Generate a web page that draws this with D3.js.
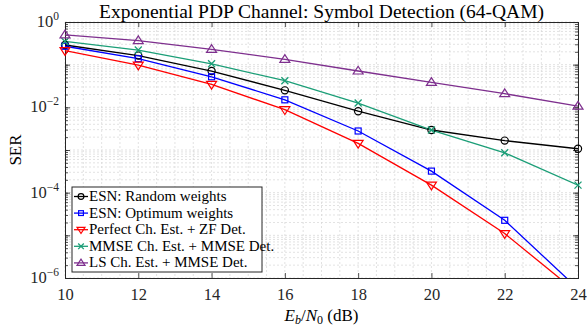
<!DOCTYPE html>
<html>
<head>
<meta charset="utf-8">
<script src="https://cdn.jsdelivr.net/npm/d3@7"></script>
<style>
  body { margin: 0; background: #fff; }
  svg { display: block; font-family: "Liberation Serif", "Times New Roman", serif; }
</style>
</head>
<body>
<svg id="chart" width="587" height="330"></svg>
<script>
// SNR points (dB)
const ebno = [10, 12, 14, 16, 18, 20, 22, 24];

// SER per method
const serEsnRandom  = [0.289, 0.163, 0.071, 0.025, 0.0081, 0.00294, 0.00166, 0.00107];
const serEsnOptimum = [0.27, 0.138, 0.052, 0.015, 0.00279, 3.2e-4, 2.25e-5, 5.6e-7];
const serPerfectZF  = [0.213, 0.098, 0.0346, 0.0088, 0.00143, 1.5e-4, 1.1e-5, 4.4e-7];
const serMmseMmse   = [0.35, 0.22, 0.105, 0.042, 0.0126, 0.00294, 8.6e-4, 1.5e-4];
const serLsMmse     = [0.50, 0.365, 0.229, 0.133, 0.071, 0.0386, 0.0209, 0.0107];

const seriesNames = ["ESN: Random weights", "ESN: Optimum weights", "Perfect Ch. Est. + ZF Det.",
    "MMSE Ch. Est. + MMSE Det.", "LS Ch. Est. + MMSE Det."];

const xTicks = [10, 12, 14, 16, 18, 20, 22, 24];
const yTickExp = [0, -2, -4, -6];

const margin = {top: 22, right: 9, bottom: 52, left: 65},
    width = 587 - margin.left - margin.right,
    height = 330 - margin.top - margin.bottom;

const series = [
    {name: seriesNames[0], values: serEsnRandom,  color: "#000000", marker: "circle"},
    {name: seriesNames[1], values: serEsnOptimum, color: "#0000ff", marker: "square"},
    {name: seriesNames[2], values: serPerfectZF,  color: "#ff0000", marker: "tridown"},
    {name: seriesNames[3], values: serMmseMmse,   color: "#1b9e77", marker: "cross"},
    {name: seriesNames[4], values: serLsMmse,     color: "#7e2f8e", marker: "triup"}
];

const svg = d3.select("#chart");
const g = svg.append("g").attr("transform", "translate(" + margin.left + "," + margin.top + ")");

const x = d3.scaleLinear().domain([10, 24]).range([0, width]);
const y = d3.scaleLog().domain([1e-6, 1]).range([height, 0]);

// minor values
const xMinor = d3.range(10, 24.01, 0.5);
const yMinor = [];
for (let e = -6; e < 0; e++) {
    for (let m = 1; m < 10; m++) yMinor.push(m * Math.pow(10, e));
}
yMinor.push(1);

// grid
const grid = g.append("g").attr("class", "grid");
grid.selectAll(".xminor").data(xMinor).enter().append("line")
    .attr("x1", d => x(d)).attr("x2", d => x(d))
    .attr("y1", 0).attr("y2", height)
    .attr("stroke", "#d6d6d6").attr("stroke-width", 0.7).attr("stroke-dasharray", "2,2");
grid.selectAll(".yminor").data(yMinor).enter().append("line")
    .attr("x1", 0).attr("x2", width)
    .attr("y1", d => y(d)).attr("y2", d => y(d))
    .attr("stroke", "#d6d6d6").attr("stroke-width", 0.7).attr("stroke-dasharray", "2,2");

// axes box + ticks
const axisX = d3.axisBottom(x).tickValues(xTicks).tickSize(-5).tickPadding(10).tickFormat(d3.format("d"));
g.append("g").attr("class", "x-axis").attr("transform", "translate(0," + height + ")").call(axisX);
g.append("g").attr("class", "x-axis-top").call(d3.axisTop(x).tickValues(xTicks).tickSize(-5).tickFormat(""));

const yMajor = d3.range(-6, 1).map(e => Math.pow(10, e));
const axisY = d3.axisLeft(y).tickValues(yMajor).tickSize(-5).tickPadding(6).tickFormat("");
g.append("g").attr("class", "y-axis").call(axisY);
g.append("g").attr("class", "y-axis-right").attr("transform", "translate(" + width + ",0)")
    .call(d3.axisRight(y).tickValues(yMajor).tickSize(-5).tickFormat(""));
g.append("g").attr("class", "y-minor").call(d3.axisLeft(y).tickValues(yMinor).tickSize(-3).tickFormat(""));
g.append("g").attr("class", "y-minor-right").attr("transform", "translate(" + width + ",0)")
    .call(d3.axisRight(y).tickValues(yMinor).tickSize(-3).tickFormat(""));

g.selectAll(".domain").attr("stroke", "#262626").attr("stroke-width", 1);
g.selectAll(".tick line").attr("stroke", "#262626").attr("stroke-width", 0.8);
g.selectAll(".x-axis text").attr("font-size", 16.5).attr("fill", "#262626")
    .attr("font-family", "Liberation Serif, serif");

// y labels 10^k
const yLab = g.append("g");
yTickExp.forEach(function (e) {
    const t = yLab.append("text")
        .attr("x", -6).attr("y", y(Math.pow(10, e)) + 5)
        .attr("text-anchor", "end").attr("fill", "#262626").attr("font-size", 16.5);
    t.append("tspan").text("10");
    t.append("tspan").attr("dy", -7).attr("font-size", 11.5).text(e === 0 ? "0" : "\u2212" + (-e));
});

// clip
svg.append("defs").append("clipPath").attr("id", "clip")
    .append("rect").attr("width", width).attr("height", height);

const plot = g.append("g").attr("clip-path", "url(#clip)");

const line = d3.line().x((d, i) => x(ebno[i])).y(d => y(d));

function drawMarker(sel, type, color, s) {
    if (type === "circle") {
        sel.append("circle").attr("r", s * 0.72).attr("fill", "none").attr("stroke", color).attr("stroke-width", 1.2);
    } else if (type === "square") {
        sel.append("rect").attr("x", -s * 0.6).attr("y", -s * 0.6).attr("width", s * 1.2).attr("height", s * 1.2)
            .attr("fill", "none").attr("stroke", color).attr("stroke-width", 1.2);
    } else if (type === "tridown") {
        sel.append("path").attr("d", "M" + (-s) + "," + (-s * 0.6) + "L" + s + "," + (-s * 0.6) + "L0," + (s * 0.95) + "Z")
            .attr("fill", "none").attr("stroke", color).attr("stroke-width", 1.2);
    } else if (type === "triup") {
        sel.append("path").attr("d", "M" + (-s) + "," + (s * 0.6) + "L" + s + "," + (s * 0.6) + "L0," + (-s * 0.95) + "Z")
            .attr("fill", "none").attr("stroke", color).attr("stroke-width", 1.2);
    } else if (type === "cross") {
        const k = s * 0.7;
        sel.append("path").attr("d", "M" + (-k) + "," + (-k) + "L" + k + "," + k + "M" + (-k) + "," + k + "L" + k + "," + (-k))
            .attr("stroke", color).attr("stroke-width", 1.3);
    }
}

series.forEach(function (s) {
    plot.append("path").datum(s.values)
        .attr("d", line).attr("fill", "none")
        .attr("stroke", s.color).attr("stroke-width", 1.3);
});
series.forEach(function (s) {
    s.values.forEach(function (v, i) {
        const py = y(v);
        if (py > height + 1) return;
        const m = g.append("g").attr("transform", "translate(" + x(ebno[i]) + "," + py + ")");
        drawMarker(m, s.marker, s.color, 5);
    });
});

// legend
const legend = g.append("g").attr("transform", "translate(" + (72 - margin.left) + "," + (187 - margin.top) + ")");
legend.append("rect").attr("width", 190).attr("height", 85)
    .attr("fill", "#fff").attr("stroke", "#262626").attr("stroke-width", 1);
series.forEach(function (s, i) {
    const row = legend.append("g").attr("transform", "translate(0," + (9.5 + i * 16.6) + ")");
    row.append("line").attr("x1", 2).attr("x2", 16).attr("stroke", s.color).attr("stroke-width", 1.3);
    drawMarker(row.append("g").attr("transform", "translate(9,0)"), s.marker, s.color, 4);
    row.append("text").attr("x", 17).attr("y", 4.5).attr("font-size", 15).attr("fill", "#000").text(s.name);
});

// title
svg.append("text").attr("x", margin.left + width / 2).attr("y", 17.5)
    .attr("text-anchor", "middle").attr("font-size", 19.5).attr("fill", "#000")
    .text("Exponential PDP Channel: Symbol Detection (64-QAM)");

// x label, centred by hand since the tspans shift the anchor
const xl = svg.append("text").attr("y", 321)
    .attr("font-size", 17).attr("fill", "#000");
xl.append("tspan").attr("font-style", "italic").text("E");
xl.append("tspan").attr("font-style", "italic").attr("font-size", 12).attr("dy", 3).text("b");
xl.append("tspan").attr("dy", -3).text("/");
xl.append("tspan").attr("font-style", "italic").text("N");
xl.append("tspan").attr("font-size", 12).attr("dy", 3).text("0");
xl.append("tspan").attr("dy", -3).text(" (dB)");
const xlW = xl.node().getComputedTextLength();
xl.attr("x", margin.left + width / 2 - xlW / 2);

// y label
svg.append("text").attr("transform", "translate(21," + (margin.top + height / 2) + ") rotate(-90)")
    .attr("text-anchor", "middle").attr("font-size", 17).attr("fill", "#000").text("SER");
</script>
</body>
</html>
